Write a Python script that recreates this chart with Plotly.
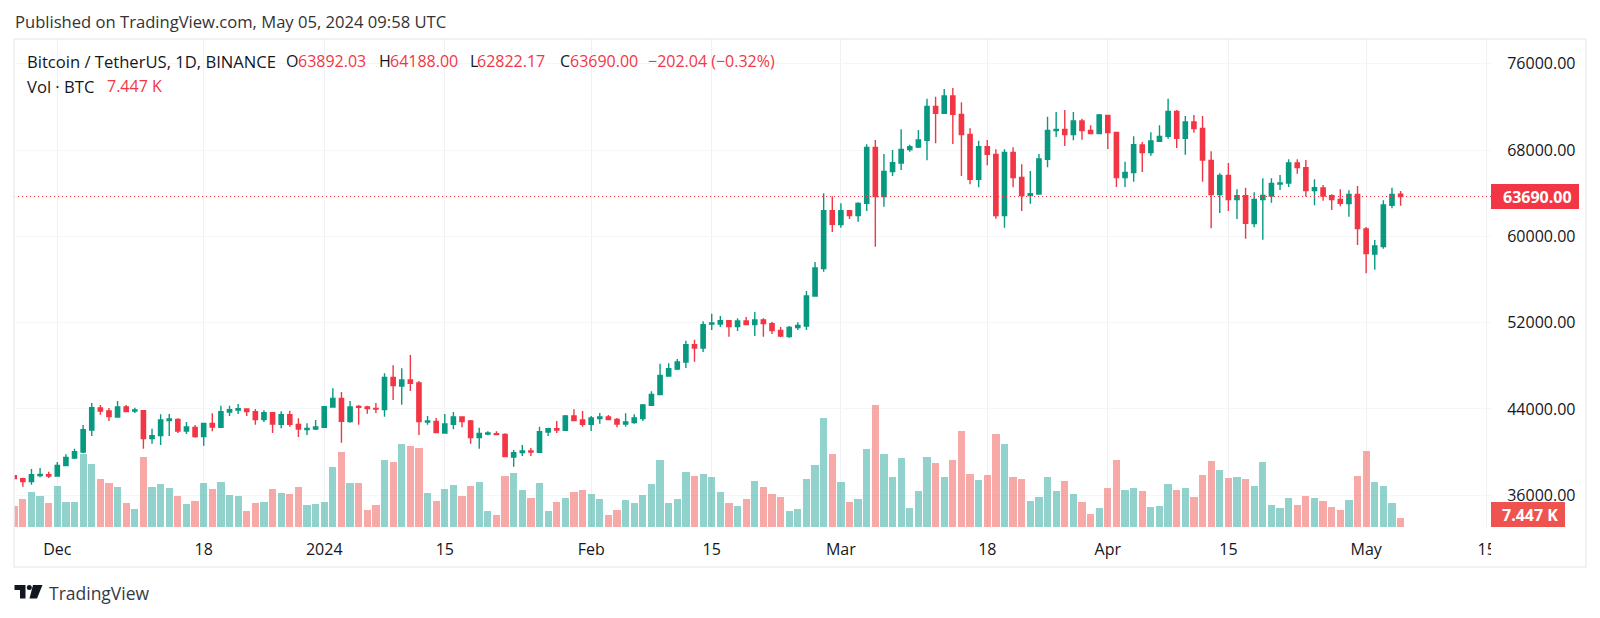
"""BTCUSDT daily candles with volume, TradingView look."""
import pandas as pd
import plotly.graph_objects as go

# daily candles, 2023-11-26 to 2024-05-05
START_DATE = "2023-11-26"
opens = [
    37811, 37533, 37254, 37811, 37903, 37780, 38738, 39448, 40005, 42044,
    44083, 43805, 43249, 44176, 43805, 43836, 41241, 41519, 42909, 43033,
    41951, 42291, 41426, 42662, 42291, 43713, 43898, 43991, 43744, 43002,
    43651, 42569, 43465, 42569, 42075, 42137, 42291, 44176, 44979, 42816,
    44238, 44176, 44052, 43929, 46926, 46123, 46679, 46401, 42786, 42847,
    41766, 42569, 43249, 42878, 41333, 41673, 41704, 41642, 39541, 39943,
    40097, 39974, 41859, 42168, 42013, 43342, 42971, 42569, 43095, 43249,
    43033, 42600, 42724, 43095, 44331, 45319, 47050, 47699, 48348, 49954,
    49645, 51870, 51870, 52179, 51623, 52148, 51808, 52241, 51901, 51283,
    50696, 51530, 51685, 54466, 57000, 62376, 61078, 62376, 61913, 63056,
    68247, 63674, 65991, 66795, 68031, 68278, 68896, 72048, 71399, 73006,
    71306, 69452, 65281, 68309, 67598, 61913, 67784, 65466, 63767, 63921,
    67135, 69792, 69916, 69421, 70688, 69823, 69514, 71214, 69638, 65435,
    65899, 68463, 67753, 68803, 69267, 71584, 69082, 70596, 70009, 67042,
    63859, 65652, 63396, 63767, 61171, 63396, 63736, 64848, 64941, 66795,
    66362, 64230, 64477, 63767, 63427, 63025, 63890, 60677, 58359, 59039,
    62871, 63892.03,
]
highs = [
    37873, 37625, 38429, 38521, 38181, 39078, 39788, 40314, 42507, 44547,
    44362, 44083, 44732, 44362, 44114, 43898, 42168, 43496, 43527, 43125,
    42786, 42507, 42693, 43589, 44300, 44300, 44454, 44052, 43991, 43867,
    43713, 43775, 43836, 43125, 42662, 42971, 44238, 45907, 45567, 44732,
    44362, 44300, 44547, 47297, 48039, 47760, 48997, 46586, 43342, 43156,
    43527, 43713, 43280, 42971, 42260, 41920, 41920, 41735, 40190, 40654,
    40375, 42353, 42260, 42878, 43434, 43960, 43805, 43342, 43620, 43434,
    43156, 43589, 43496, 44454, 45628, 48193, 48224, 48626, 50325, 50418,
    52117, 52828, 52612, 52241, 52396, 52519, 52983, 52396, 52087, 51592,
    51685, 52025, 54929, 57618, 63983, 63705, 63056, 62438, 63149, 68525,
    68927, 67629, 67999, 69916, 68494, 69854, 72759, 72944, 73655, 73747,
    72419, 70008, 68865, 68927, 68062, 68062, 68247, 66671, 66053, 67629,
    71090, 71523, 71708, 71523, 70905, 70287, 71337, 71275, 69669, 66919,
    69267, 68742, 69638, 70287, 72759, 71708, 71152, 71245, 71152, 67876,
    65837, 66795, 64354, 64508, 64076, 65374, 65374, 65682, 67135, 67135,
    67073, 65281, 64755, 63890, 64354, 64261, 64663, 60862, 59657, 63334,
    64508, 64188.00,
]
lows = [
    37409, 36791, 36976, 37656, 37594, 37718, 38707, 39356, 39881, 41488,
    43465, 42878, 43218, 43682, 43620, 40314, 40777, 40654, 41488, 41766,
    41673, 41333, 40592, 41920, 42260, 43342, 43527, 43342, 42538, 42786,
    41766, 42198, 42353, 41395, 41580, 42044, 42260, 44114, 40870, 42724,
    42538, 43558, 43620, 43280, 44825, 44392, 45659, 41581, 42538, 41735,
    41735, 42106, 42291, 40777, 40314, 41550, 41550, 39541, 38645, 39634,
    39634, 39943, 41488, 41766, 41982, 42847, 42353, 41951, 42631, 42971,
    42291, 42353, 42631, 42878, 44300, 45289, 46988, 47606, 47791, 48379,
    49275, 51314, 51592, 50696, 51221, 51747, 50758, 50696, 50943, 50634,
    50603, 51314, 51314, 54404, 56722, 60399, 60800, 61604, 61357, 62345,
    59039, 62747, 65590, 66146, 67846, 68185, 67042, 68618, 71337, 68556,
    65590, 64817, 64539, 66579, 61635, 60800, 64539, 62345, 63025, 63860,
    66393, 69205, 68371, 68896, 68958, 69483, 69483, 68093, 64570, 64570,
    65064, 65961, 67475, 68773, 69051, 68185, 67567, 69607, 65064, 60738,
    62160, 62345, 61604, 59781, 60831, 59688, 63118, 64292, 64570, 65806,
    63674, 62871, 63303, 62438, 62778, 61820, 59194, 56567, 56907, 58853,
    62592, 62822.17,
]
closes = [
    37533, 37254, 37903, 37934, 37780, 38769, 39510, 40036, 42075, 44114,
    43805, 43280, 44176, 43744, 43898, 41241, 41519, 42971, 43064, 41951,
    42322, 41426, 42662, 42322, 43744, 43929, 44022, 43744, 43002, 43651,
    42600, 43465, 42569, 42137, 42198, 42322, 44207, 44979, 42847, 44176,
    44145, 44022, 43991, 46926, 46154, 46679, 46370, 42817, 42878, 41797,
    42600, 43249, 42817, 41333, 41735, 41766, 41611, 39572, 39943, 40097,
    40005, 41890, 42168, 42044, 43342, 42909, 42569, 43156, 43249, 43002,
    42600, 42786, 43156, 44362, 45350, 47112, 47730, 48348, 49954, 49645,
    51808, 51963, 52179, 51623, 52148, 51808, 52241, 51901, 51252, 50758,
    51561, 51747, 54466, 57061, 62376, 61109, 62376, 61913, 63056, 68247,
    63674, 66022, 66826, 68062, 68309, 68927, 72048, 71399, 73006, 71306,
    69421, 65281, 68309, 67598, 61913, 67784, 65435, 63767, 63952, 67166,
    69823, 69916, 69421, 70688, 69792, 69514, 71244, 69607, 65435, 65930,
    68494, 67753, 68834, 69267, 71584, 69082, 70596, 69978, 67073, 63859,
    65652, 63396, 63767, 61202, 63427, 63798, 64910, 64941, 66795, 66362,
    64230, 64508, 63736, 63396, 63056, 63890, 60708, 58390, 59101, 62902,
    63890, 63690.00,
]
# volume in thousands of BTC
volumes = [
    17.8, 24.3, 29.8, 26.9, 20.3, 34.9, 21.8, 21.8, 62.7, 53.8,
    41.0, 37.5, 34.1, 20.3, 15.2, 60.4, 34.1, 36.7, 33.2, 26.9,
    19.5, 22.6, 37.5, 32.4, 39.0, 27.5, 26.9, 13.5, 20.3, 21.8,
    32.4, 29.2, 28.4, 34.1, 18.6, 19.5, 21.8, 51.3, 64.4, 38.1,
    38.1, 14.3, 18.6, 57.9, 55.6, 71.0, 69.3, 67.9, 29.2, 22.6,
    32.4, 35.8, 26.9, 34.9, 38.4, 13.5, 10.3, 44.1, 46.4, 31.5,
    25.2, 37.5, 13.5, 21.8, 25.2, 30.1, 31.8, 28.4, 24.3, 10.3,
    14.3, 23.5, 20.3, 27.5, 36.7, 57.9, 20.3, 24.3, 47.3, 44.1,
    45.8, 43.2, 30.1, 20.9, 17.8, 24.3, 39.8, 34.1, 28.4, 25.5,
    13.7, 15.5, 41.0, 53.3, 93.7, 62.4, 38.7, 21.5, 24.1, 67.3,
    104.5, 62.4, 42.7, 59.0, 16.3, 30.9, 59.9, 55.0, 42.7, 57.6,
    82.2, 45.3, 40.1, 44.4, 79.6, 71.3, 42.7, 41.0, 22.1, 25.5,
    42.7, 30.9, 39.5, 28.6, 21.2, 11.2, 16.3, 33.5, 57.3, 31.8,
    33.5, 30.9, 17.2, 18.0, 36.9, 31.8, 33.5, 26.1, 45.0, 56.7,
    49.3, 41.8, 42.7, 41.0, 35.2, 55.8, 18.6, 16.3, 25.2, 18.6,
    26.9, 25.2, 22.1, 17.2, 14.6, 22.9, 44.1, 65.0, 38.7, 35.2,
    20.3, 7.447,
]

price_ticks = [76000, 68000, 60000, 52000, 44000, 36000]
date_ticks = ["2023-12-01", "2023-12-18", "2024-01-01", "2024-01-15", "2024-02-01", "2024-02-15",
              "2024-03-01", "2024-03-18", "2024-04-01", "2024-04-15", "2024-05-01", "2024-05-15"]
date_labels = ["Dec", "18", "2024", "15", "Feb", "15", "Mar", "18", "Apr", "15", "May", "15"]

WIDTH, HEIGHT = 1600, 618
LEFT, RIGHT, TOP, BOTTOM = 14, 1491, 39, 527
FONT = "'Open Sans', sans-serif"
INK = "#131722"
UP, DOWN = "#089981", "#F23645"


def px(x):
    return (x - LEFT) / (RIGHT - LEFT)


def py(y):
    return (BOTTOM - y) / (BOTTOM - TOP)


def label(fig, x, y, text, color=INK, size=16, anchor="left"):
    fig.add_annotation(x=px(x), y=py(y), xref="paper", yref="paper", text=text, showarrow=False,
                       xanchor=anchor, yanchor="middle", borderpad=0,
                       font=dict(family=FONT, size=size, color=color))


def box(fig, x0, y0, x1, y1, **kw):
    fig.add_shape(type="rect", xref="paper", yref="paper",
                  x0=px(x0), x1=px(x1), y0=py(y0), y1=py(y1), **kw)


def polygon(fig, points, color):
    path = "M" + " L".join(f"{px(x):.5f},{py(y):.5f}" for x, y in points) + " Z"
    fig.add_shape(type="path", path=path, xref="paper", yref="paper",
                  line=dict(width=0), fillcolor=color)


dates = pd.date_range(START_DATE, periods=len(closes), freq="D")
bar_colors = ["rgba(38,166,154,0.5)" if c >= o else "rgba(239,83,80,0.5)" for o, c in zip(opens, closes)]

fig = go.Figure()
fig.add_trace(go.Bar(x=dates, y=volumes, marker_color=bar_colors, marker_line_width=0,
                     width=0.84 * 86400000, yaxis="y", showlegend=False))
fig.add_trace(go.Candlestick(
    x=dates, open=opens, high=highs, low=lows, close=closes, yaxis="y2", showlegend=False,
    whiskerwidth=0,
    increasing=dict(line=dict(color=UP, width=1.4), fillcolor=UP),
    decreasing=dict(line=dict(color=DOWN, width=1.4), fillcolor=DOWN),
))

fig.update_layout(
    width=WIDTH, height=HEIGHT,
    margin=dict(l=LEFT, r=WIDTH - RIGHT, t=TOP, b=HEIGHT - BOTTOM, autoexpand=False),
    paper_bgcolor="white", plot_bgcolor="white",
    font=dict(family=FONT, color=INK),
    showlegend=False,
    bargap=0,
    xaxis=dict(
        type="date", range=["2023-11-25 23:18", "2024-05-15 12:00"],
        rangeslider=dict(visible=False),
        tickvals=date_ticks, ticktext=date_labels, tickangle=0,
        ticks="outside", ticklen=8, tickcolor="rgba(0,0,0,0)",
        tickfont=dict(family=FONT, size=16, color=INK),
        showgrid=True, gridcolor="#f0f1f4", gridwidth=1, showline=False, zeroline=False,
    ),
    yaxis=dict(range=[0, 419.2], visible=False, fixedrange=True),
    yaxis2=dict(
        range=[33052, 78290], overlaying="y", side="right", anchor="x",
        tickvals=price_ticks, tickformat=".2f",
        ticks="outside", ticklen=12, tickcolor="rgba(0,0,0,0)",
        tickfont=dict(family=FONT, size=16, color=INK),
        showgrid=True, gridcolor="#f5f6f8", gridwidth=1, showline=False, zeroline=False,
    ),
)

# last price line
fig.add_shape(type="line", xref="paper", yref="y2", x0=0, x1=1, y0=closes[-1], y1=closes[-1],
              line=dict(color=DOWN, width=1, dash="1px,3px"))

# outer frame, and a white patch that cuts the last date label at the pane edge
box(fig, LEFT, TOP, 1586, 567, line=dict(color="#eceef3", width=1.5), fillcolor="rgba(0,0,0,0)")
box(fig, RIGHT, 532, 1502, 556, line=dict(width=0), fillcolor="white")

# value badges
box(fig, RIGHT, 184, 1579, 209, line=dict(width=0), fillcolor=DOWN)
label(fig, 1537, 196.5, "<b>63690.00</b>", "white", 16, "center")
box(fig, RIGHT, 502, 1565, 527, line=dict(width=0), fillcolor="#EF5350")
label(fig, 1530, 514.5, "<b>7.447 K</b>", "white", 16, "center")

# header and legend texts
label(fig, 14, 22, "Published on TradingView.com, May 05, 2024 09:58 UTC", "#333333", 16.6)
label(fig, 26, 61, "Bitcoin / TetherUS, 1D, BINANCE", size=16.6)
label(fig, 285, 61, "O")
label(fig, 297, 61, "63892.03", DOWN)
label(fig, 378, 61, "H")
label(fig, 389, 61, "64188.00", DOWN)
label(fig, 469, 61, "L")
label(fig, 476, 61, "62822.17", DOWN)
label(fig, 559, 61, "C")
label(fig, 569, 61, "63690.00", DOWN)
label(fig, 647, 61, "−202.04 (−0.32%)", DOWN)
label(fig, 26, 86, "Vol · BTC", size=16.6)
label(fig, 106, 86, "7.447 K", DOWN)

# TradingView logo
polygon(fig, [(14.5, 585), (25.5, 585), (25.5, 598.5), (20, 598.5), (20, 590), (14.5, 590)], INK)
polygon(fig, [(33, 585), (42.5, 585), (37, 598.5), (29.5, 598.5)], INK)
fig.add_shape(type="circle", xref="paper", yref="paper", x0=px(26.8), x1=px(31.8), y0=py(590), y1=py(585),
              line=dict(width=0), fillcolor=INK)
label(fig, 48, 593, "TradingView", "#363a45", 17.5)

fig.write_html("out.html", config={"displayModeBar": False},
               post_script="document.body.style.margin='0';")
